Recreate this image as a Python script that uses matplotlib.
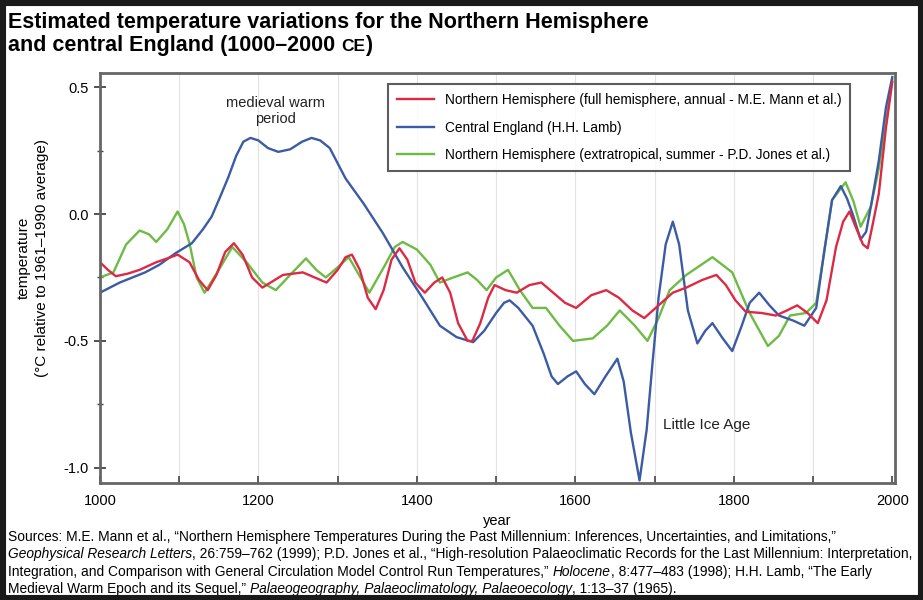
import numpy as np
import matplotlib
matplotlib.use("Agg")
import matplotlib.pyplot as plt
from matplotlib.patches import Rectangle

plt.rcParams['font.family'] = ['Liberation Sans', 'DejaVu Sans']

# Central England (H.H. Lamb)
blue_yr = [1000, 1025, 1057, 1075, 1095, 1116, 1130, 1141, 1152, 1162, 1172, 1181, 1190,
           1200, 1212, 1225, 1240, 1255, 1267, 1278, 1290, 1300, 1310, 1333, 1357, 1382,
           1407, 1429, 1450, 1471, 1485, 1500, 1510, 1517, 1528, 1546, 1560, 1570, 1578,
           1590, 1601, 1612, 1624, 1638, 1653, 1661, 1670, 1681, 1690, 1697, 1705, 1714,
           1723, 1731, 1742, 1754, 1764, 1773, 1786, 1798, 1810, 1820, 1832, 1845, 1857,
           1875, 1889, 1904, 1914, 1924, 1935, 1943, 1950, 1960, 1967, 1973, 1983, 1992, 2000]
blue_val = [-0.31, -0.27, -0.23, -0.20, -0.155, -0.115, -0.06, -0.01, 0.07, 0.145, 0.23, 0.285, 0.30,
            0.29, 0.26, 0.245, 0.255, 0.285, 0.30, 0.29, 0.26, 0.20, 0.14, 0.04, -0.075, -0.21,
            -0.33, -0.44, -0.485, -0.505, -0.46, -0.39, -0.35, -0.34, -0.37, -0.44, -0.55, -0.64, -0.67,
            -0.64, -0.62, -0.67, -0.71, -0.64, -0.57, -0.66, -0.86, -1.05, -0.85, -0.60, -0.33, -0.12,
            -0.03, -0.12, -0.38, -0.51, -0.46, -0.43, -0.49, -0.54, -0.44, -0.35, -0.31, -0.36, -0.40,
            -0.42, -0.44, -0.37, -0.15, 0.055, 0.11, 0.06, 0.00, -0.10, -0.07, 0.03, 0.21, 0.42, 0.54]

# Northern Hemisphere (Mann et al.)
red_yr = [1000, 1010, 1020, 1035, 1050, 1071, 1085, 1098, 1113, 1125, 1136, 1147, 1158,
          1169, 1180, 1192, 1205, 1218, 1231, 1256, 1271, 1286, 1300, 1310, 1318, 1328,
          1338, 1348, 1358, 1368, 1378, 1388, 1398, 1410, 1422, 1432, 1442, 1452, 1464,
          1470, 1480, 1490, 1498, 1512, 1526, 1542, 1557, 1572, 1587, 1601, 1620, 1639,
          1655, 1672, 1687, 1705, 1723, 1740, 1760, 1778, 1790, 1802, 1815, 1835, 1853,
          1867, 1880, 1893, 1906, 1917, 1929, 1938, 1946, 1955, 1963, 1969, 1976, 1983,
          1992, 2000]
red_val = [-0.19, -0.22, -0.245, -0.235, -0.22, -0.19, -0.175, -0.16, -0.19, -0.26, -0.30, -0.24, -0.15,
           -0.115, -0.16, -0.25, -0.29, -0.265, -0.24, -0.23, -0.25, -0.27, -0.22, -0.17, -0.16, -0.22,
           -0.33, -0.375, -0.30, -0.18, -0.135, -0.18, -0.27, -0.31, -0.27, -0.25, -0.31, -0.43, -0.50,
           -0.50, -0.43, -0.33, -0.28, -0.30, -0.31, -0.28, -0.27, -0.31, -0.35, -0.37, -0.32, -0.30,
           -0.33, -0.38, -0.41, -0.36, -0.31, -0.29, -0.26, -0.24, -0.28, -0.34, -0.385, -0.39, -0.40,
           -0.38, -0.36, -0.39, -0.43, -0.34, -0.13, -0.03, 0.01, -0.06, -0.12, -0.135, -0.03, 0.08,
           0.34, 0.52]

# Northern Hemisphere extratropical summer (Jones et al.)
green_yr = [1000, 1017, 1033, 1050, 1062, 1071, 1085, 1098, 1106, 1113, 1122, 1132, 1150,
            1167, 1185, 1205, 1222, 1240, 1260, 1273, 1285, 1300, 1314, 1327, 1340, 1360,
            1372, 1382, 1400, 1417, 1429, 1446, 1464, 1476, 1488, 1500, 1515, 1530, 1546,
            1563, 1580, 1597, 1622, 1640, 1656, 1675, 1691, 1705, 1719, 1740, 1773, 1798,
            1820, 1843, 1857, 1871, 1891, 1904, 1914, 1924, 1941, 1951, 1960, 1973, 1983,
            1992, 2000]
green_val = [-0.25, -0.23, -0.12, -0.065, -0.08, -0.11, -0.06, 0.01, -0.04, -0.115, -0.25, -0.31, -0.22,
             -0.13, -0.19, -0.27, -0.30, -0.24, -0.175, -0.22, -0.25, -0.21, -0.17, -0.24, -0.31, -0.20,
             -0.13, -0.11, -0.14, -0.20, -0.27, -0.25, -0.23, -0.26, -0.30, -0.25, -0.22, -0.30, -0.37,
             -0.37, -0.44, -0.50, -0.49, -0.44, -0.38, -0.44, -0.50, -0.41, -0.30, -0.24, -0.17, -0.23,
             -0.39, -0.52, -0.48, -0.40, -0.39, -0.35, -0.15, 0.055, 0.125, 0.05, -0.05, 0.03, 0.18,
             0.36, 0.53]

labels = ["Northern Hemisphere (full hemisphere, annual - M.E. Mann et al.)",
          "Central England (H.H. Lamb)",
          "Northern Hemisphere (extratropical, summer - P.D. Jones et al.)"]

x_ticks = list(range(1000, 2001, 100))
x_ticklabels = [str(t) if t % 200 == 0 else "" for t in x_ticks]
y_ticks = [-1.0, -0.5, 0.0, 0.5]
y_ticklabels = ["-1.0", "-0.5", "0.0", "0.5"]


def rich_line(fig, x, y, parts, **kw):
    # place text pieces one after another on the same baseline
    renderer = fig.canvas.get_renderer()
    for s, extra in parts:
        opts = dict(kw)
        opts.update(extra)
        t = fig.text(x, y, s, ha="left", **opts)
        x += t.get_window_extent(renderer).width / fig.bbox.width


fig = plt.figure(figsize=(9.23, 6.0), dpi=100)
ax = fig.add_axes([0.1083, 0.195, 0.861, 0.683])

for xv in x_ticks[1:-1]:
    ax.axvline(xv, color="#e2e2e2", lw=0.8, zorder=0)

lg, = ax.plot(green_yr, green_val, color="#6dbb45", lw=1.7, solid_joinstyle="round")
lb, = ax.plot(blue_yr, blue_val, color="#3b5ba5", lw=1.7, solid_joinstyle="round")
lr, = ax.plot(red_yr, red_val, color="#dc2a45", lw=1.7, solid_joinstyle="round")

ax.set_xlim(1000, 2003)
ax.set_ylim(-1.06, 0.555)
ax.set_xticks(x_ticks)
ax.set_xticklabels(x_ticklabels, fontsize=10.5)
ax.set_yticks(y_ticks)
ax.set_yticklabels(y_ticklabels, fontsize=10.5)
ax.set_yticks([-0.75, -0.25, 0.25], minor=True)
ax.tick_params(axis="y", which="major", direction="inout", length=9, width=1.3, color="#444")
ax.tick_params(axis="y", which="minor", direction="inout", length=5, width=1.0, color="#444")
ax.tick_params(axis="x", direction="in", length=5, width=1.2, color="#444", pad=8)
for sp in ax.spines.values():
    sp.set_color("#666")
    sp.set_linewidth(2.0)

ax.set_xlabel("year", fontsize=10.5, labelpad=4)
ax.set_ylabel("temperature\n(\u00b0C relative to 1961\u20131990 average)", fontsize=11,
              linespacing=1.35)
ax.yaxis.set_label_coords(-0.064, 0.55)

ax.text(1221, 0.405, "medieval warm\nperiod", ha="center", va="center", fontsize=10.5,
        color="#222", linespacing=1.2)
ax.text(1711, -0.83, "Little Ice Age", ha="left", va="center", fontsize=11, color="#222")

leg = ax.legend([lr, lb, lg], labels, loc="upper left", bbox_to_anchor=(0.354, 0.99),
                fontsize=9.8, frameon=True, fancybox=False, edgecolor="#333",
                handlelength=2.7, labelspacing=1.0, borderpad=0.65)
leg.get_frame().set_linewidth(1.5)

fig.text(0.009, 1 - 28 / 600, "Estimated temperature variations for the Northern Hemisphere",
         ha="left", fontsize=15.5, fontweight="bold", va="baseline")
rich_line(fig, 0.009, 1 - 51 / 600,
          [("and central England (1000\u20132000 ", {}),
           ("CE", {"fontsize": 12.5}),
           (")", {})],
          fontweight="bold", va="baseline", fontsize=15.5)

# sources with italic journal names
src_lines = [
    [("Sources: M.E. Mann et al., \u201cNorthern Hemisphere Temperatures During the Past Millennium: "
      "Inferences, Uncertainties, and Limitations,\u201d", {})],
    [("Geophysical Research Letters", {"style": "italic"}),
     (", 26:759\u2013762 (1999); P.D. Jones et al., \u201cHigh-resolution Palaeoclimatic Records for the "
      "Last Millennium: Interpretation,", {})],
    [("Integration, and Comparison with General Circulation Model Control Run Temperatures,\u201d ", {}),
     ("Holocene", {"style": "italic"}),
     (", 8:477\u2013483 (1998); H.H. Lamb, \u201cThe Early", {})],
    [("Medieval Warm Epoch and its Sequel,\u201d ", {}),
     ("Palaeogeography, Palaeoclimatology, Palaeoecology", {"style": "italic"}),
     (", 1:13\u201337 (1965).", {})],
]
y0 = 0.105
for parts in src_lines:
    rich_line(fig, 0.009, y0, parts, fontsize=9.9, va="center")
    y0 -= 0.0288

fig.patches.append(Rectangle((0, 0), 1, 1, transform=fig.transFigure, fill=False,
                             edgecolor="#1a1a1a", linewidth=8, zorder=10))

fig.savefig("out.png", dpi=100)
